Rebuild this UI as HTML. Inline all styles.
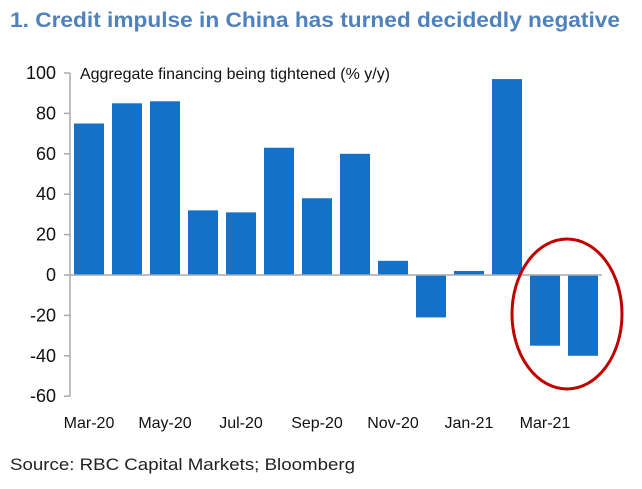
<!DOCTYPE html>
<html><head><meta charset="utf-8"><style>
body{margin:0;background:#fff;width:642px;height:484px;overflow:hidden;font-family:"Liberation Sans",sans-serif}
</style></head><body>
<svg width="642" height="484">
<text x="10" y="27" font-size="21" font-weight="bold" fill="#4F81BD" textLength="610" lengthAdjust="spacingAndGlyphs">1. Credit impulse in China has turned decidedly negative</text>
<text x="80" y="79" font-size="16" fill="#111" textLength="310" lengthAdjust="spacingAndGlyphs">Aggregate financing being tightened (% y/y)</text>
<text x="10" y="470" font-size="17" fill="#222" textLength="345" lengthAdjust="spacingAndGlyphs">Source: RBC Capital Markets; Bloomberg</text>
<g id="plot"></g>
<ellipse cx="567" cy="314" rx="55" ry="75" fill="none" stroke="#C00000" stroke-width="3"/>
</svg>
<script>
const categories=["Mar-20","Apr-20","May-20","Jun-20","Jul-20","Aug-20","Sep-20","Oct-20","Nov-20","Dec-20","Jan-21","Feb-21","Mar-21","Apr-21"];
const values=[75,85,86,32,31,63,38,60,7,-21,2,97,-35,-40];
const yTicks=[100,80,60,40,20,0,-20,-40,-60];
const xLabelIdx=[0,2,4,6,8,10,12];
const NS="http://www.w3.org/2000/svg";
const g=document.getElementById('plot');
const x0=70,band=38,zeroY=275,ppu=2.02;
const y=v=>zeroY-v*ppu;
const xb=i=>x0+i*band;
function mk(t,a){const e=document.createElementNS(NS,t);for(const k in a)e.setAttribute(k,a[k]);g.appendChild(e);return e;}
const ax=mk('line',{x1:x0,x2:x0,y1:y(100),y2:y(-60),stroke:'#aaa','stroke-width':1.5});


yTicks.forEach(v=>{
 const l=mk('line',{x1:x0-6,x2:x0,y1:y(v),y2:y(v),stroke:'#aaa','stroke-width':1.5});
 
 
 const t=mk('text',{x:x0-14,y:y(v)+6,'text-anchor':'end','font-size':18,fill:'#111'});
 t.textContent=v;
 
 
});
values.forEach((v,i)=>{
 const r=mk('rect',{x:xb(i)+4,width:30,y:Math.min(y(v),zeroY),height:Math.abs(v)*ppu,fill:'#1570C8'});
 
 
});
const zl=mk('line',{x1:x0,x2:xb(categories.length),y1:zeroY,y2:zeroY,stroke:'#aaa','stroke-width':1.5});


xLabelIdx.forEach(i=>{
 const t=mk('text',{x:xb(i)+band/2,y:428,'text-anchor':'middle','font-size':16,fill:'#111'});
 t.textContent=categories[i];
 
 
});
</script>
</body></html>
